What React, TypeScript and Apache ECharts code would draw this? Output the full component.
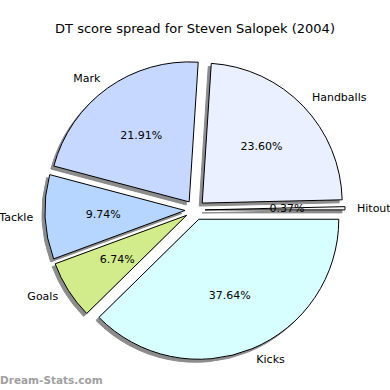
import React, { useEffect, useRef } from "react";
import * as echarts from "echarts";

const categories = ["Hitout", "Handballs", "Mark", "Tackle", "Goals", "Kicks"];
const percentages = [0.37, 23.6, 21.91, 9.74, 6.74, 37.64];
const colors = ["#f4f4f4", "#eaf0ff", "#c6d8ff", "#b6d6ff", "#d2ec8c", "#d8ffff"];

const FONT = "DejaVu Sans";
const CX = 195;
const CY = 210;
const R = 140;
const OFFSET = 10;

export default function App() {
  const ref = useRef<HTMLDivElement>(null);
  useEffect(() => {
    if (!ref.current) return;
    const chart = echarts.init(ref.current, undefined, { renderer: "svg" });
    const mainData = categories.map((name, i) => ({
      name,
      value: percentages[i],
      selected: true,
      itemStyle: { color: colors[i] },
    }));
    const pctData = categories.map((name, i) => ({
      name,
      value: percentages[i],
      selected: true,
    }));
    chart.setOption({
      animation: false,
      backgroundColor: "#ffffff",
      title: {
        text: "DT score spread for Steven Salopek (2004)",
        left: "center",
        top: 17,
        textStyle: { fontFamily: FONT, fontSize: 13, fontWeight: "normal", color: "#000" },
      },
      graphic: [
        {
          type: "text",
          left: 0,
          top: 374,
          style: {
            text: "Dream-Stats.com",
            fontFamily: FONT,
            fontSize: 10.5,
            fontWeight: "bold",
            fill: "#a0a0a0",
          },
        },
      ],
      series: [
        {
          type: "pie",
          center: [CX, CY],
          radius: [0, R],
          startAngle: 0,
          clockwise: false,
          selectedMode: "multiple",
          selectedOffset: OFFSET,
          avoidLabelOverlap: false,
          minAngle: 0,
          data: mainData,
          itemStyle: {
            borderColor: "#000",
            borderWidth: 1,
            shadowColor: "rgba(0,0,0,0.45)",
            shadowBlur: 0,
            shadowOffsetX: -3,
            shadowOffsetY: 3,
          },
          label: {
            show: true,
            position: "outside",
            formatter: "{b}",
            fontFamily: FONT,
            fontSize: 11,
            color: "#000",
            distanceToLabelLine: 0,
          },
          labelLine: { show: false, length: 12, length2: 0 },
          emphasis: { disabled: true },
        },
        {
          type: "pie",
          center: [CX, CY],
          radius: [0, 158],
          startAngle: 0,
          clockwise: false,
          selectedMode: "multiple",
          selectedOffset: OFFSET,
          avoidLabelOverlap: false,
          silent: true,
          data: pctData,
          itemStyle: { color: "rgba(0,0,0,0)", borderWidth: 0 },
          label: {
            show: true,
            position: "inside",
            formatter: (p: any) => p.value.toFixed(2) + "%",
            fontFamily: FONT,
            fontSize: 11,
            color: "#000",
          },
          labelLine: { show: false },
          emphasis: { disabled: true },
        },
      ],
    });
    return () => chart.dispose();
  }, []);
  return <div ref={ref} style={{ width: 390, height: 390, position: "absolute", left: 0, top: 0 }} />;
}
